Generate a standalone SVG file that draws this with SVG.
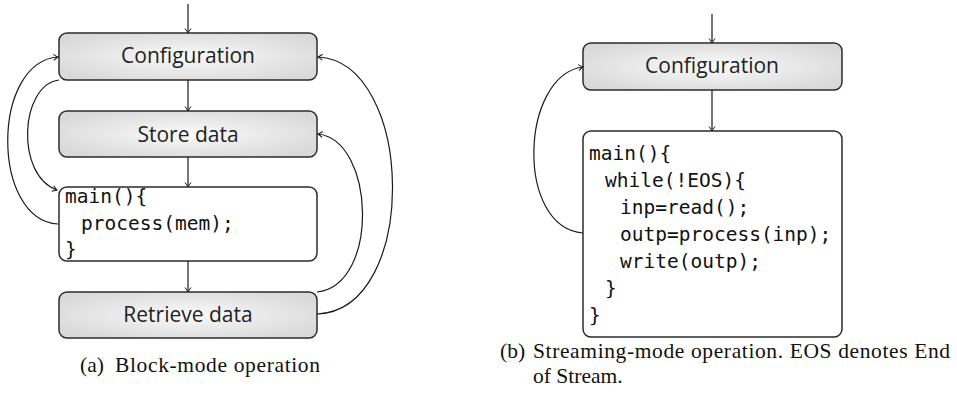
<svg xmlns="http://www.w3.org/2000/svg" width="957" height="401" viewBox="0 0 957 401">
  <style>
    .box { fill: url(#boxShade); stroke: #2b2b2b; stroke-width: 1.5; }
    .code-box { fill: #ffffff; stroke: #2b2b2b; stroke-width: 1.5; }
    .label { font-family: "Open Sans", "Liberation Sans", sans-serif; font-size: 21px; fill: #222; text-anchor: middle; }
    .code { font-family: "DejaVu Sans Mono", "Liberation Mono", monospace; font-size: 19.5px; fill: #111; }
    .caption { font-family: "Liberation Serif", serif; font-size: 21.5px; fill: #111; }
    .edge { fill: none; stroke: #1a1a1a; stroke-width: 1.2; marker-end: url(#tip); }
  </style>
  <defs>
    <radialGradient id="boxShade" cx="0.5" cy="0.5" r="0.6">
      <stop offset="0" stop-color="#fafafa"/>
      <stop offset="1" stop-color="#d9d9d9"/>
    </radialGradient>
    <marker id="tip" viewBox="-6 -4 8 8" markerWidth="8" markerHeight="8" refX="0" refY="0" orient="auto" markerUnits="userSpaceOnUse">
      <path d="M-4.5,-3 Q-1.2,-0.6 0,0 Q-1.2,0.6 -4.5,3" fill="none" stroke="#1a1a1a" stroke-width="1"/>
    </marker>
  </defs>

  <!-- (a) block-mode flow -->
  <g id="a-config">
    <rect class="box" x="59" y="33" width="258" height="47" rx="8"/>
    <text class="label" x="188" y="63">Configuration</text>
  </g>
  <g id="a-store">
    <rect class="box" x="59" y="111" width="258" height="46" rx="8"/>
    <text class="label" x="188" y="142">Store data</text>
  </g>
  <g id="a-main">
    <rect class="code-box" x="59" y="187" width="258" height="74" rx="8"/>
    <text class="code" x="65" y="203">main(){</text>
    <text class="code" x="81" y="230">process(mem);</text>
    <text class="code" x="65" y="256">}</text>
  </g>
  <g id="a-retrieve">
    <rect class="box" x="59" y="292" width="258" height="46" rx="8"/>
    <text class="label" x="188" y="322">Retrieve data</text>
  </g>

  <!-- (b) streaming-mode flow -->
  <g id="b-config">
    <rect class="box" x="583" y="43" width="259" height="47" rx="8"/>
    <text class="label" x="712" y="73">Configuration</text>
  </g>
  <g id="b-main">
    <rect class="code-box" x="583" y="131" width="259" height="206" rx="8"/>
    <text class="code" x="589" y="160">main(){</text>
    <text class="code" x="605" y="187">while(!EOS){</text>
    <text class="code" x="620" y="214">inp=read();</text>
    <text class="code" x="620" y="241">outp=process(inp);</text>
    <text class="code" x="620" y="268">write(outp);</text>
    <text class="code" x="605" y="295">}</text>
    <text class="code" x="589" y="322">}</text>
  </g>

  <g id="connectors">
    <!-- (a) straight flow -->
    <path class="edge" d="M188,4 V33"/>
    <path class="edge" d="M188,80 V111"/>
    <path class="edge" d="M188,157 V187"/>
    <path class="edge" d="M188,261 V292"/>
    <!-- (a) loops on the left -->
    <path class="edge" d="M58,224 C-9,220 -9,62 58,57"/>
    <path class="edge" d="M59,80 C20,85 15,175 57,190"/>
    <!-- (a) loops on the right -->
    <path class="edge" d="M317,292 C380,285 375,140 318,134"/>
    <path class="edge" d="M317,314 C420,310 415,62 318,57"/>
    <!-- (b) flow and loop -->
    <path class="edge" d="M712,14 V43"/>
    <path class="edge" d="M712,90 V131"/>
    <path class="edge" d="M583,233 C515,228 520,75 583,67"/>
  </g>

  <g id="captions">
    <text class="caption" x="80" y="372">(a)</text>
    <text class="caption" x="115" y="372" textLength="205" lengthAdjust="spacing">Block-mode operation</text>
    <text class="caption" x="500" y="358">(b)</text>
    <text class="caption" x="533" y="358" textLength="417" lengthAdjust="spacing">Streaming-mode operation. EOS denotes End</text>
    <text class="caption" x="533" y="383">of Stream.</text>
  </g>
</svg>
